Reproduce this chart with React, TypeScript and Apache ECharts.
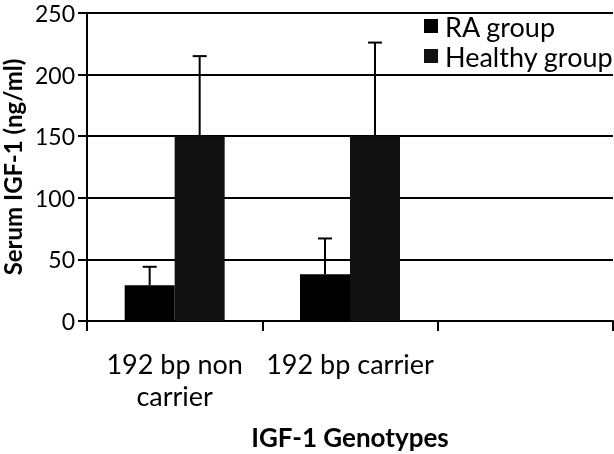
import React, { useEffect, useRef } from "react";
import * as echarts from "echarts";

const categories = ["192 bp non\ncarrier", "192 bp carrier", ""];
const raMean = [29, 38, null];
const raSD = [15, 29, null];
const healthyMean = [150, 150, null];
const healthySD = [65, 76, null];
const yTicks = { min: 0, max: 250, interval: 50 };

const FONT = "Lato, 'Open Sans', sans-serif";
const BAR_W = 50;

function errorSeries(name: string, means: (number | null)[], sds: (number | null)[], offset: number) {
  const data = means
    .map((m, i) => (m == null ? null : [i, m, (m as number) + (sds[i] as number)]))
    .filter((d) => d !== null);
  return {
    type: "custom",
    name: name + " SD",
    z: 5,
    silent: true,
    data,
    renderItem: (params: any, api: any) => {
      const idx = api.value(0);
      const base = api.coord([idx, api.value(1)]);
      const top = api.coord([idx, api.value(2)]);
      const x = base[0] + offset;
      const half = 7;
      return {
        type: "group",
        children: [
          { type: "line", shape: { x1: x, y1: base[1], x2: x, y2: top[1] }, style: { stroke: "#000", lineWidth: 2 } },
          { type: "line", shape: { x1: x - half, y1: top[1], x2: x + half, y2: top[1] }, style: { stroke: "#000", lineWidth: 2 } },
        ],
      };
    },
  };
}

export default function App() {
  const ref = useRef<HTMLDivElement>(null);
  useEffect(() => {
    if (!ref.current) return;
    const chart = echarts.init(ref.current, null, { renderer: "svg" });
    chart.setOption({
      animation: false,
      textStyle: { fontFamily: FONT },
      grid: { left: 87, right: 1, top: 13, bottom: 133, containLabel: false, outerBoundsMode: "none" },
      legend: {
        orient: "vertical",
        left: 419,
        top: 6,
        itemWidth: 14,
        itemHeight: 14,
        itemGap: 0,
        icon: "rect",
        data: ["RA group", "Healthy group"],
        textStyle: { fontFamily: FONT, fontSize: 27, lineHeight: 30, color: "#000", padding: [0, 0, 0, 2] },
      },
      xAxis: {
        type: "category",
        data: categories,
        name: "IGF-1 Genotypes",
        nameLocation: "middle",
        nameGap: 103,
        nameTextStyle: { fontFamily: FONT, fontSize: 26, fontWeight: "bold", color: "#000" },
        axisLine: { lineStyle: { color: "#000", width: 2 } },
        axisTick: { show: true, length: 10, lineStyle: { color: "#000", width: 2 } },
        axisLabel: { color: "#000", fontSize: 27, fontFamily: FONT, margin: 26, lineHeight: 32, interval: 0 },
      },
      yAxis: {
        type: "value",
        min: yTicks.min,
        max: yTicks.max,
        interval: yTicks.interval,
        name: "Serum IGF-1 (ng/ml)",
        nameLocation: "middle",
        nameGap: 46,
        nameRotate: 90,
        nameTextStyle: { fontFamily: FONT, fontSize: 24, lineHeight: 22, fontWeight: "bold", color: "#000" },
        axisLine: { show: true, lineStyle: { color: "#000", width: 2 } },
        axisTick: { show: true, length: 9, lineStyle: { color: "#000", width: 2 } },
        axisLabel: { color: "#000", fontSize: 23, lineHeight: 22, fontFamily: FONT, margin: 12 },
        splitLine: { show: true, lineStyle: { color: "#000", width: 2 } },
      },
      series: [
        {
          name: "RA group",
          type: "bar",
          data: raMean,
          barWidth: BAR_W,
          barGap: "0%",
          itemStyle: { color: "#000" },
          z: 3,
        },
        {
          name: "Healthy group",
          type: "bar",
          data: healthyMean,
          barWidth: BAR_W,
          barGap: "0%",
          itemStyle: { color: "#111" },
          z: 3,
        },
        errorSeries("RA group", raMean, raSD, -BAR_W / 2),
        errorSeries("Healthy group", healthyMean, healthySD, BAR_W / 2),
      ],
    });
    return () => chart.dispose();
  }, []);
  return <div ref={ref} style={{ position: "fixed", left: 0, top: 0, width: 614, height: 454 }} />;
}
